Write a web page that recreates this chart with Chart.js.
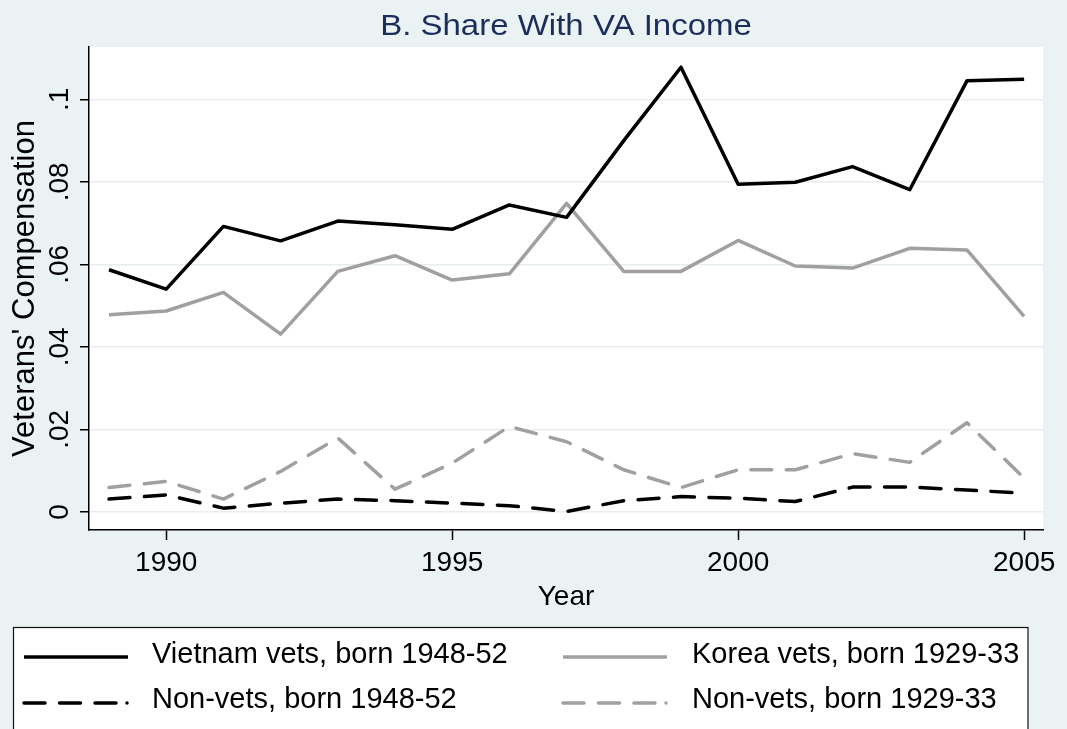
<!DOCTYPE html>
<html>
<head>
<meta charset="utf-8">
<script src="https://cdn.jsdelivr.net/npm/chart.js@4/dist/chart.umd.min.js"></script>
<style>
  body { margin: 0; background: #eaf2f3; }
  canvas { display: block; }
</style>
</head>
<body>
<canvas id="chart" width="1067" height="729"></canvas>
<script>
const years = [1989, 1990, 1991, 1992, 1993, 1994, 1995, 1996, 1997, 1998, 1999, 2000, 2001, 2002, 2003, 2004, 2005];
const vietnamVets = [0.0587, 0.0540, 0.0692, 0.0657, 0.0705, 0.0696, 0.0685, 0.0744, 0.0714, 0.0900, 0.1078, 0.0794, 0.0799, 0.0837, 0.0781, 0.1045, 0.1049];
const koreaVets = [0.0478, 0.0487, 0.0532, 0.0431, 0.0583, 0.0621, 0.0562, 0.0577, 0.0748, 0.0583, 0.0583, 0.0658, 0.0596, 0.0591, 0.0639, 0.0635, 0.0474];
const nonVets4852 = [0.0031, 0.0041, 0.0009, 0.0021, 0.0031, 0.0027, 0.0021, 0.0015, 0.0001, 0.0027, 0.0037, 0.0033, 0.0025, 0.0060, 0.0060, 0.0053, 0.0045];
const nonVets2933 = [0.0059, 0.0074, 0.0031, 0.0098, 0.0179, 0.0055, 0.0118, 0.0207, 0.0170, 0.0102, 0.0059, 0.0102, 0.0102, 0.0141, 0.0120, 0.0216, 0.0082];

const xTicks = [1990, 1995, 2000, 2005];
const yTicks = [0, 0.02, 0.04, 0.06, 0.08, 0.1];
const yTickLabels = ['0', '.02', '.04', '.06', '.08', '.1'];

const FONT = '"Liberation Sans", Arial, sans-serif';
const BG = '#eaf2f3';
const GREY = '#a0a0a0';
const DASH = [21, 14.5];

const pts = vals => years.map((yr, i) => ({ x: yr, y: vals[i] }));

function series(label, vals, color, dash) {
  return {
    label: label,
    data: pts(vals),
    borderColor: color,
    borderWidth: 3.5,
    borderDash: dash,
    borderCapStyle: dash.length ? 'round' : 'butt',
    borderJoinStyle: 'round',
    pointRadius: 0,
    tension: 0,
    fill: false
  };
}

// legend order: row by row, two columns
const datasets = [
  series('Vietnam vets, born 1948-52', vietnamVets, '#000000', []),
  series('Korea vets, born 1929-33', koreaVets, GREY, []),
  series('Non-vets, born 1948-52', nonVets4852, '#000000', DASH),
  series('Non-vets, born 1929-33', nonVets2933, GREY, DASH)
];

const stataLook = {
  id: 'stataLook',
  beforeDraw(chart) {
    const { ctx, chartArea: a } = chart;
    ctx.save();
    ctx.fillStyle = BG;
    ctx.fillRect(0, 0, chart.width, chart.height);
    ctx.fillStyle = '#ffffff';
    ctx.fillRect(a.left, a.top, a.right - a.left, a.bottom - a.top);
    ctx.restore();
  },
  afterDraw(chart) {
    const { ctx, chartArea: a } = chart;
    const yScale = chart.scales.y;
    ctx.save();

    // title
    ctx.fillStyle = '#1b2d5b';
    ctx.font = '30px ' + FONT;
    ctx.textAlign = 'center';
    ctx.textBaseline = 'alphabetic';
    ctx.save();
    ctx.translate((a.left + a.right) / 2, 35);
    ctx.scale(1.1, 1);
    ctx.fillText('B. Share With VA Income', 0, 0);
    ctx.restore();

    // y tick labels, rotated
    ctx.fillStyle = '#000000';
    ctx.font = '28px ' + FONT;
    yTicks.forEach((v, i) => {
      ctx.save();
      ctx.translate(68, yScale.getPixelForValue(v));
      ctx.rotate(-Math.PI / 2);
      ctx.fillText(yTickLabels[i], 0, 0);
      ctx.restore();
    });

    // y title
    ctx.font = '31px ' + FONT;
    ctx.save();
    ctx.translate(34, (a.top + a.bottom) / 2);
    ctx.rotate(-Math.PI / 2);
    ctx.fillText("Veterans' Compensation", 0, 0);
    ctx.restore();

    // x title
    ctx.font = '28px ' + FONT;
    ctx.fillText('Year', (a.left + a.right) / 2, 605);

    // legend box
    ctx.fillStyle = '#ffffff';
    ctx.fillRect(13.5, 627.5, 1014.5, 120);
    ctx.strokeStyle = '#111111';
    ctx.lineWidth = 1.2;
    ctx.strokeRect(13.5, 627.5, 1014.5, 120);

    const cols = [{ x0: 24, x1: 128, tx: 152 }, { x0: 563, x1: 667, tx: 692 }];
    const rows = [{ ly: 657, ty: 663 }, { ly: 703, ty: 708 }];
    chart.data.datasets.forEach((ds, i) => {
      const c = cols[i % 2], r = rows[Math.floor(i / 2)];
      ctx.save();
      ctx.strokeStyle = ds.borderColor;
      ctx.lineWidth = ds.borderWidth;
      ctx.lineCap = ds.borderCapStyle;
      ctx.beginPath();
      if (ds.borderDash.length) {
        // three dashes and a trailing dot, as in the Stata key
        ctx.setLineDash(ds.borderDash);
        ctx.moveTo(c.x0, r.ly);
        ctx.lineTo(c.x0 + 3 * (ds.borderDash[0] + ds.borderDash[1]) - 4, r.ly);
        ctx.stroke();
        ctx.setLineDash([]);
        ctx.beginPath();
        ctx.arc(c.x1 - 1, r.ly, ds.borderWidth / 2, 0, Math.PI * 2);
        ctx.fillStyle = ds.borderColor;
        ctx.fill();
      } else {
        ctx.moveTo(c.x0, r.ly);
        ctx.lineTo(c.x1, r.ly);
        ctx.stroke();
      }
      ctx.restore();
      ctx.fillStyle = '#000000';
      ctx.font = '29px ' + FONT;
      ctx.textAlign = 'left';
      ctx.fillText(ds.label, c.tx, r.ty);
    });

    ctx.restore();
  }
};

new Chart(document.getElementById('chart'), {
  type: 'line',
  data: { datasets: datasets },
  plugins: [stataLook],
  options: {
    responsive: false,
    animation: false,
    events: [],
    layout: { padding: { top: 47, right: 24, bottom: 109, left: 0 } },
    plugins: {
      legend: { display: false },
      title: { display: false },
      tooltip: { enabled: false }
    },
    scales: {
      x: {
        type: 'linear',
        min: 1988.65,
        max: 2005.33,
        afterBuildTicks(s) { s.ticks = xTicks.map(v => ({ value: v })); },
        afterFit(s) { s.height = 90; s.paddingLeft = 0; s.paddingRight = 0; },
        ticks: {
          color: '#000000',
          font: { family: FONT, size: 28 },
          padding: 6,
          maxRotation: 0,
          minRotation: 0,
          callback: v => String(v)
        },
        grid: {
          drawOnChartArea: false,
          drawTicks: true,
          tickLength: 10,
          tickColor: '#000000',
          tickWidth: 1.5
        },
        border: { display: true, color: '#000000', width: 1.5 }
      },
      y: {
        type: 'linear',
        min: -0.0044,
        max: 0.1127,
        afterBuildTicks(s) { s.ticks = yTicks.map(v => ({ value: v })); },
        afterFit(s) { s.width = 89; s.paddingTop = 0; s.paddingBottom = 0; },
        ticks: { display: false },
        grid: {
          color: '#e6eef1',
          lineWidth: 1.5,
          drawTicks: true,
          tickLength: 9,
          tickColor: '#000000',
          tickWidth: 1.5
        },
        border: { display: true, color: '#000000', width: 1.5 }
      }
    }
  }
});
</script>
</body>
</html>
